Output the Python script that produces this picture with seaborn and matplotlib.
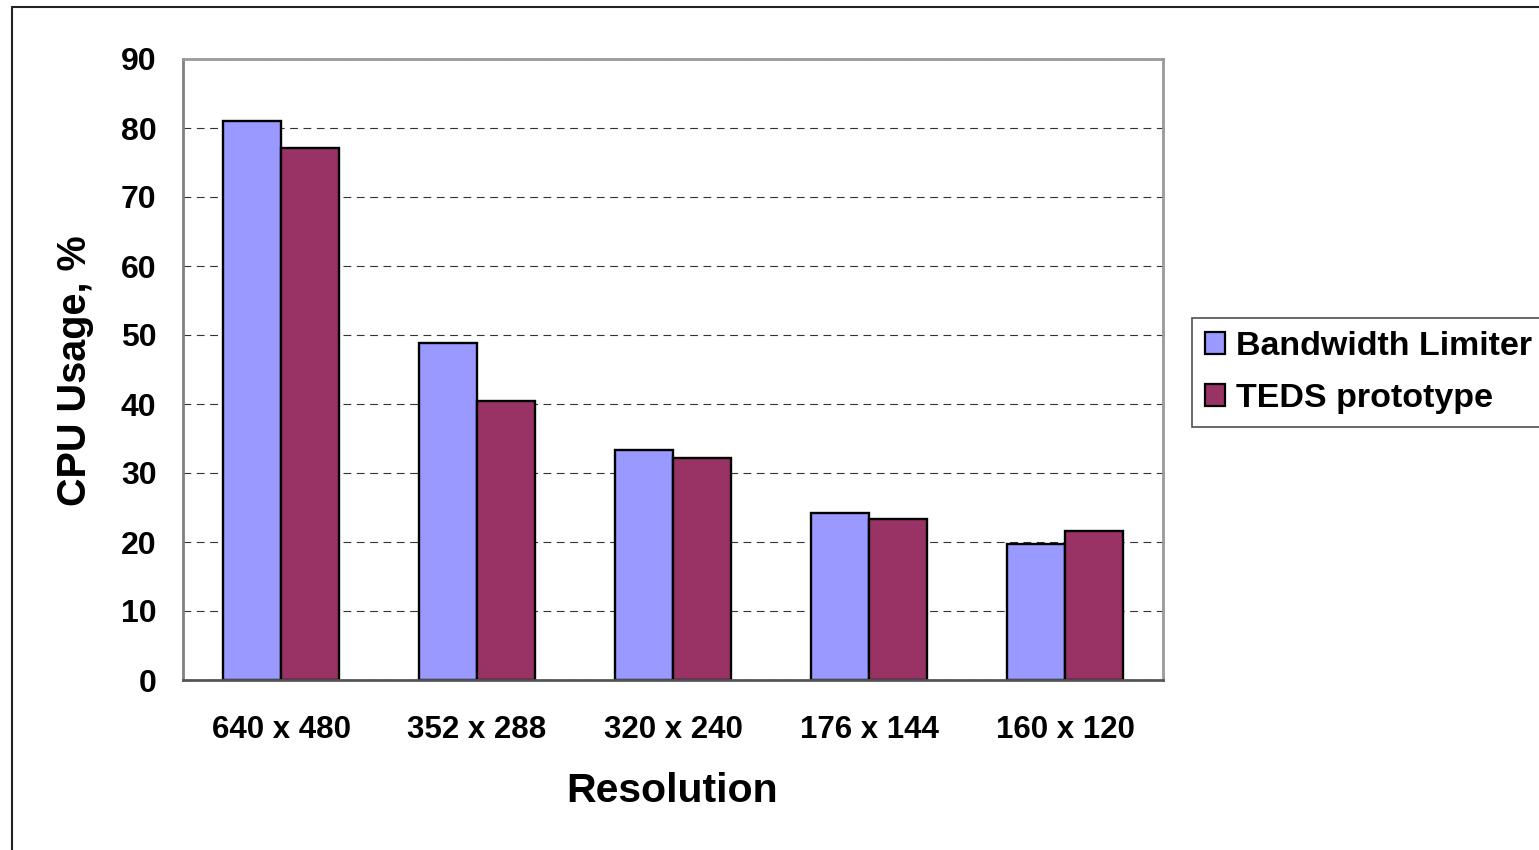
import matplotlib
matplotlib.use("Agg")
import matplotlib.pyplot as plt
import seaborn as sns
import pandas as pd
from matplotlib.lines import Line2D
from matplotlib.patches import Patch

# CPU usage per video resolution for the two implementations
resolutions = ["640 x 480", "352 x 288", "320 x 240", "176 x 144", "160 x 120"]
bandwidth_limiter = [81.0, 48.9, 33.3, 24.2, 19.7]
teds_prototype = [77.1, 40.4, 32.2, 23.4, 21.6]
series_names = ["Bandwidth Limiter", "TEDS prototype"]
series_colors = ["#9999FF", "#993366"]
y_ticks = [0, 10, 20, 30, 40, 50, 60, 70, 80, 90]

df = pd.DataFrame({
    "Resolution": resolutions * 2,
    "CPU": bandwidth_limiter + teds_prototype,
    "Series": [series_names[0]] * len(resolutions) + [series_names[1]] * len(resolutions),
})

sns.set_theme(style="white")
plt.rcParams["font.family"] = ["Liberation Sans", "DejaVu Sans"]
plt.rcParams["font.weight"] = "bold"
plt.rcParams["text.color"] = "black"
plt.rcParams["axes.labelcolor"] = "black"

W, H = 1539, 850
fig = plt.figure(figsize=(W / 100, H / 100), dpi=100)
fig.patch.set_facecolor("white")
ax = fig.add_axes([183 / W, 1 - 680 / H, 980 / W, 621 / H])

sns.barplot(
    data=df, x="Resolution", y="CPU", hue="Series",
    order=resolutions, hue_order=series_names,
    palette=series_colors, width=0.59, saturation=1,
    edgecolor="black", linewidth=1.7, errorbar=None, ax=ax, legend=False,
)

ax.set_xlim(-0.5, len(resolutions) - 0.5)
ax.set_ylim(y_ticks[0], y_ticks[-1])
ax.set_yticks(y_ticks)
ax.set_yticklabels([str(v) for v in y_ticks], fontsize=23, fontweight="bold")
ax.set_xticks(range(len(resolutions)))
ax.set_xticklabels(resolutions, fontsize=22.5, fontweight="bold")
ax.set_xticks([i - 0.5 for i in range(len(resolutions) + 1)], minor=True)

ax.tick_params(axis="x", which="major", length=0, pad=25, colors="black")
ax.tick_params(axis="x", which="minor", length=7, width=1.2, color="#333333", direction="out")
ax.tick_params(axis="y", which="major", length=7, width=1.2, color="#333333", direction="out", pad=12)
ax.tick_params(axis="both", labelcolor="black")

# dashed horizontal gridlines
ax.set_axisbelow(True)
ax.yaxis.grid(True, color="#333333", linestyle=(0, (7, 5)), linewidth=0.8)
ax.xaxis.grid(False)

for side, col in [("left", "#808080"), ("top", "#999999"), ("right", "#999999"), ("bottom", "#555555")]:
    ax.spines[side].set_visible(True)
    ax.spines[side].set_color(col)
    ax.spines[side].set_linewidth(2)
    ax.spines[side].set_zorder(3)

ax.set_xlabel("Resolution", fontsize=29.5, fontweight="bold", color="black")
ax.set_ylabel("CPU Usage, %", fontsize=28.5, fontweight="bold", color="black")
ax.xaxis.set_label_coords((672 - 183) / 980, (680 - 791) / 621)
ax.xaxis.label.set_verticalalignment("center")
ax.yaxis.set_label_coords((75 - 183) / 980, (680 - 371) / 621)
ax.yaxis.label.set_verticalalignment("center")

handles = [Patch(facecolor=c, edgecolor="black", linewidth=1.6) for c in series_colors]
leg = fig.legend(
    handles, series_names, loc="upper left", mode="expand",
    bbox_to_anchor=(1192 / W, 1 - 318 / H, 0.3, 0), bbox_transform=fig.transFigure,
    frameon=True, fancybox=False, borderaxespad=0, borderpad=0.38,
    handlelength=0.6, handleheight=0.6, handletextpad=0.3, labelspacing=0.62,
    prop={"size": 24.5, "weight": "bold", "family": ["Liberation Sans", "DejaVu Sans"]},
)
leg.get_frame().set_edgecolor("#222222")
leg.get_frame().set_linewidth(1.2)

# outer chart frame (left and top edges visible)
fig.add_artist(Line2D([12 / W, 12 / W], [0, 1 - 7 / H], transform=fig.transFigure, color="#222222", linewidth=1.5))
fig.add_artist(Line2D([12 / W, 1], [1 - 7 / H, 1 - 7 / H], transform=fig.transFigure, color="#222222", linewidth=1.5))

fig.savefig("out.png", dpi=100, facecolor="white")
